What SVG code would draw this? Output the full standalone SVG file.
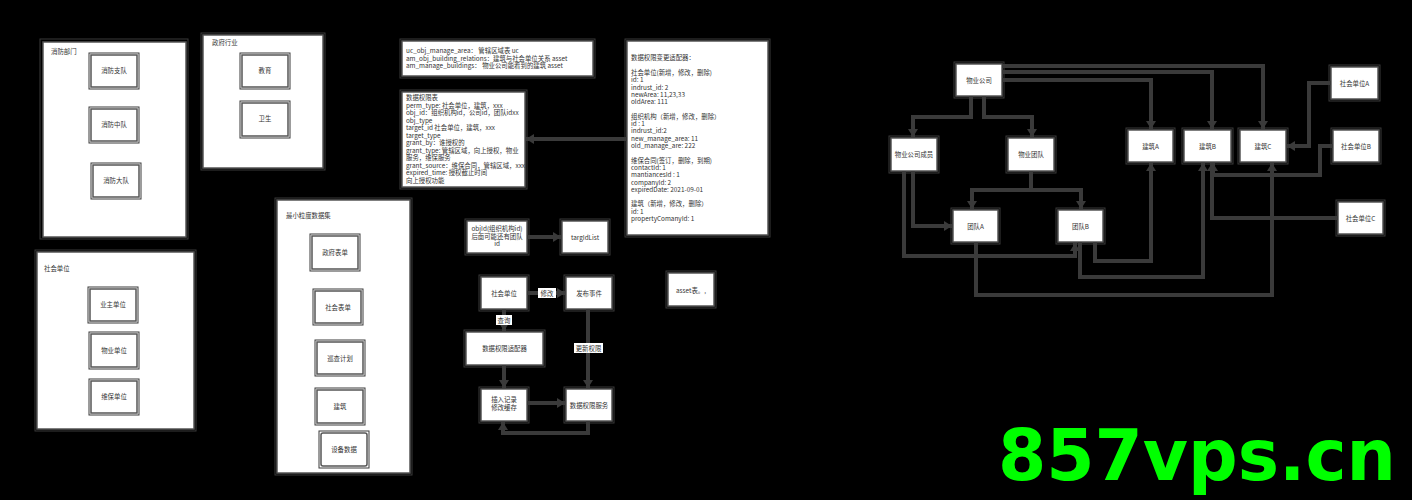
<svg xmlns="http://www.w3.org/2000/svg" width="1412" height="500" viewBox="0 0 1412 500">
<defs>
<style>
.bg{fill:#000}
.frame{fill:none;stroke:#3a3a3a;stroke-width:1}
.box{fill:#fff;stroke:#555;stroke-width:1.5}
.t{font-family:"Noto Sans CJK SC","Noto Sans",sans-serif;font-size:6.4px;fill:#333}
.c{text-anchor:middle}
.line{fill:none;stroke:#3a3a3a;stroke-width:4}
.lbl{fill:#fff}
.wm{font-family:"DejaVu Sans",sans-serif;font-weight:bold;font-size:72px;fill:#00ff00}
</style>
<marker id="ah" markerUnits="userSpaceOnUse" markerWidth="9" markerHeight="10" refX="8" refY="5" orient="auto">
<path d="M0,0 L8,5 L0,10 z" fill="#3a3a3a"/>
</marker>
</defs>
<rect class="bg" x="0" y="0" width="1412" height="500"/>

<g id="fire-dept">
<rect class="frame" x="40" y="39" width="148" height="200"/>
<rect class="box" x="43" y="42" width="143" height="195"/>
<text class="t" x="51" y="54">消防部门</text>
</g>
<g id="fire-1"><rect class="frame" x="89" y="53" width="50" height="36"/><rect class="box" x="91" y="55" width="46" height="32"/><text class="t c" x="114" y="73">消防支队</text></g>
<g id="fire-2"><rect class="frame" x="89" y="107" width="50" height="36"/><rect class="box" x="91" y="109" width="46" height="32"/><text class="t c" x="114" y="127">消防中队</text></g>
<g id="fire-3"><rect class="frame" x="91" y="163" width="50" height="36"/><rect class="box" x="93" y="165" width="46" height="32"/><text class="t c" x="116" y="183">消防大队</text></g>

<g id="gov">
<rect class="frame" x="201" y="33" width="124" height="137"/>
<rect class="box" x="203" y="35" width="120" height="133"/>
<text class="t" x="212" y="45">政府行业</text>
</g>
<g id="gov-edu"><rect class="frame" x="240" y="53" width="50" height="36"/><rect class="box" x="242" y="55" width="46" height="32"/><text class="t c" x="265" y="73">教育</text></g>
<g id="gov-health"><rect class="frame" x="240" y="101" width="50" height="37"/><rect class="box" x="242" y="103" width="46" height="33"/><text class="t c" x="265" y="121">卫生</text></g>

<g id="social">
<rect class="frame" x="35" y="250" width="161" height="181"/>
<rect class="box" x="37" y="252" width="157" height="177"/>
<text class="t" x="44" y="271">社会单位</text>
</g>
<g id="soc-1"><rect class="frame" x="88" y="287" width="50" height="36"/><rect class="box" x="90" y="289" width="46" height="32"/><text class="t c" x="113" y="307">业主单位</text></g>
<g id="soc-2"><rect class="frame" x="89" y="332" width="50" height="37"/><rect class="box" x="91" y="334" width="46" height="33"/><text class="t c" x="114" y="353">物业单位</text></g>
<g id="soc-3"><rect class="frame" x="89" y="379" width="50" height="36"/><rect class="box" x="91" y="381" width="46" height="32"/><text class="t c" x="114" y="399">维保单位</text></g>

<g id="dataset">
<rect class="frame" x="275" y="198" width="137" height="277"/>
<rect class="box" x="277" y="200" width="133" height="273"/>
<text class="t" x="286" y="218">最小粒度数据集</text>
</g>
<g id="ds-1"><rect class="frame" x="310" y="234" width="50" height="37"/><rect class="box" x="312" y="236" width="46" height="33"/><text class="t c" x="335" y="255">政府表单</text></g>
<g id="ds-2"><rect class="frame" x="313" y="289" width="50" height="36"/><rect class="box" x="315" y="291" width="46" height="32"/><text class="t c" x="338" y="310">社会表单</text></g>
<g id="ds-3"><rect class="frame" x="315" y="340" width="50" height="36"/><rect class="box" x="317" y="342" width="46" height="32"/><text class="t c" x="340" y="361">巡查计划</text></g>
<g id="ds-4"><rect class="frame" x="315" y="388" width="50" height="37"/><rect class="box" x="317" y="390" width="46" height="33"/><text class="t c" x="340" y="409">建筑</text></g>
<g id="ds-5"><rect class="frame" x="319" y="431" width="50" height="37"/><rect class="box" x="321" y="433" width="46" height="33" rx="2"/><text class="t c" x="344" y="452">设备数据</text></g>

<g id="tables-note">
<rect class="frame" x="400" y="39" width="195" height="39"/>
<rect class="box" x="402" y="41" width="191" height="35"/>
<text class="t" x="406" y="53">uc_obj_manage_area： 管辖区域表  uc</text>
<text class="t" x="406" y="60.5">am_obj_building_relations：建筑与社会单位关系 asset</text>
<text class="t" x="406" y="68">am_manage_buildings： 物业公司能看到的建筑 asset</text>
</g>

<g id="perm-table">
<rect class="frame" x="400" y="90" width="127" height="99"/>
<rect class="box" x="402" y="92" width="123" height="95"/>
<text class="t" x="406" y="100">数据权限表</text>
<text class="t" x="406" y="107.5">perm_type: 社会单位，建筑，xxx</text>
<text class="t" x="406" y="115">obj_id：组织机构id，公司id，团队idxx</text>
<text class="t" x="406" y="122.5">obj_type</text>
<text class="t" x="406" y="130">target_id 社会单位，建筑，xxx</text>
<text class="t" x="406" y="137.5">target_type</text>
<text class="t" x="406" y="145">grant_by：谁授权的</text>
<text class="t" x="406" y="152.5">grant_type: 管辖区域，向上授权，物业</text>
<text class="t" x="406" y="160">服务，维保服务</text>
<text class="t" x="406" y="167.5">grant_source：维保合同，管辖区域，xxx</text>
<text class="t" x="406" y="175">expired_time: 授权截止时间</text>
<text class="t" x="406" y="182.5">向上授权功能</text>
</g>

<g id="adapter-note">
<rect class="frame" x="625" y="39" width="145" height="198"/>
<rect class="box" x="627" y="41" width="141" height="194"/>
<text class="t" x="631" y="60">数据权限变更适配器：</text>
<text class="t" x="631" y="75">社会单位(新增，修改，删除)</text>
<text class="t" x="631" y="82.3">id: 1</text>
<text class="t" x="631" y="89.6">indrust_id: 2</text>
<text class="t" x="631" y="96.9">newArea: 11,23,33</text>
<text class="t" x="631" y="104.2">oldArea:  111</text>
<text class="t" x="631" y="118.8">组织机构（新增，修改，删除）</text>
<text class="t" x="631" y="126.1">id : 1</text>
<text class="t" x="631" y="133.4">indrust_id:2</text>
<text class="t" x="631" y="140.7">new_manage_area: 11</text>
<text class="t" x="631" y="148">old_manage_are: 222</text>
<text class="t" x="631" y="162.6">维保合同(签订，删除，到期)</text>
<text class="t" x="631" y="169.9">contactId: 1</text>
<text class="t" x="631" y="177.2">mantiancesId :  1</text>
<text class="t" x="631" y="184.5">companyId:  2</text>
<text class="t" x="631" y="191.8">expiredDate: 2021-09-01</text>
<text class="t" x="631" y="206.4">建筑（新增，修改，删除）</text>
<text class="t" x="631" y="213.7">id: 1</text>
<text class="t" x="631" y="221">propertyComanyId: 1</text>
</g>

<g id="objid"><rect class="frame" x="465" y="219" width="64" height="36"/><rect class="box" x="467" y="221" width="60" height="32"/>
<text class="t c" x="497" y="231">objId(组织机构id)</text><text class="t c" x="497" y="238.5">后面可能还有团队</text><text class="t c" x="497" y="246">id</text></g>
<g id="targidlist"><rect class="frame" x="560" y="219" width="50" height="36"/><rect class="box" x="562" y="221" width="46" height="32"/><text class="t c" x="585" y="239.5">targIdList</text></g>
<g id="flow-social"><rect class="frame" x="479" y="275" width="50" height="36"/><rect class="box" x="481" y="277" width="46" height="32"/><text class="t c" x="504" y="295.5">社会单位</text></g>
<g id="flow-publish"><rect class="frame" x="564" y="275" width="50" height="36"/><rect class="box" x="566" y="277" width="46" height="32"/><text class="t c" x="589" y="295.5">发布事件</text></g>
<g id="flow-adapter"><rect class="frame" x="464" y="330" width="81" height="37"/><rect class="box" x="466" y="332" width="77" height="33"/><text class="t c" x="504.5" y="351">数据权限适配器</text></g>
<g id="flow-insert"><rect class="frame" x="479" y="387" width="50" height="36"/><rect class="box" x="481" y="389" width="46" height="32"/><text class="t c" x="504" y="402">插入记录</text><text class="t c" x="504" y="410">修改缓存</text></g>
<g id="flow-service"><rect class="frame" x="564" y="387" width="50" height="36"/><rect class="box" x="566" y="389" width="46" height="32"/><text class="t c" x="589" y="407.5">数据权限服务</text></g>
<g id="asset"><rect class="frame" x="666" y="271" width="50" height="37"/><rect class="box" x="668" y="273" width="46" height="33"/><text class="t c" x="691" y="293">asset表。,</text></g>

<g id="pm-company"><rect class="frame" x="954" y="62" width="50" height="36"/><rect class="box" x="956" y="64" width="46" height="32"/><text class="t c" x="979" y="82.5">物业公司</text></g>
<g id="pm-member"><rect class="frame" x="889" y="136" width="50" height="37"/><rect class="box" x="891" y="138" width="46" height="33"/><text class="t c" x="914" y="157">物业公司成员</text></g>
<g id="pm-team"><rect class="frame" x="1006" y="136" width="50" height="37"/><rect class="box" x="1008" y="138" width="46" height="33"/><text class="t c" x="1031" y="157">物业团队</text></g>
<g id="team-a"><rect class="frame" x="951" y="208" width="49" height="36"/><rect class="box" x="953" y="210" width="45" height="32"/><text class="t c" x="975.5" y="228.5">团队A</text></g>
<g id="team-b"><rect class="frame" x="1056" y="208" width="49" height="36"/><rect class="box" x="1058" y="210" width="45" height="32"/><text class="t c" x="1080.5" y="228.5">团队B</text></g>
<g id="bld-a"><rect class="frame" x="1126" y="128" width="49" height="36"/><rect class="box" x="1128" y="130" width="45" height="32"/><text class="t c" x="1150.5" y="148.5">建筑A</text></g>
<g id="bld-b"><rect class="frame" x="1182" y="128" width="51" height="36"/><rect class="box" x="1184" y="130" width="47" height="32"/><text class="t c" x="1207.5" y="148.5">建筑B</text></g>
<g id="bld-c"><rect class="frame" x="1238" y="128" width="50" height="36"/><rect class="box" x="1240" y="130" width="46" height="32"/><text class="t c" x="1263" y="148.5">建筑C</text></g>
<g id="soc-a"><rect class="frame" x="1329" y="65" width="51" height="36"/><rect class="box" x="1331" y="67" width="47" height="32"/><text class="t c" x="1354.5" y="85.5">社会单位A</text></g>
<g id="soc-b"><rect class="frame" x="1331" y="128" width="50" height="36"/><rect class="box" x="1333" y="130" width="46" height="32"/><text class="t c" x="1356" y="148.5">社会单位B</text></g>
<g id="soc-c"><rect class="frame" x="1336" y="200" width="49" height="36"/><rect class="box" x="1338" y="202" width="45" height="32"/><text class="t c" x="1360.5" y="220.5">社会单位C</text></g>

<g id="connectors">
<path class="line" d="M627,139 H526" marker-end="url(#ah)"/>
<path class="line" d="M527,237 H561" marker-end="url(#ah)"/>
<path class="line" d="M527,293 H565" marker-end="url(#ah)"/>
<path class="line" d="M504,309 V331" marker-end="url(#ah)"/>
<path class="line" d="M588,309 V388" marker-end="url(#ah)"/>
<path class="line" d="M504,365 V388" marker-end="url(#ah)"/>
<path class="line" d="M527,403 H565" marker-end="url(#ah)"/>
<path class="line" d="M588,421 V433 H503 V422" marker-end="url(#ah)"/>

<path class="line" d="M1002,66 H1263 V129" marker-end="url(#ah)"/>
<path class="line" d="M1002,72 H1212 V129" marker-end="url(#ah)"/>
<path class="line" d="M1002,80 H1151 V129" marker-end="url(#ah)"/>
<path class="line" d="M971,96 V117 H913 V137" marker-end="url(#ah)"/>
<path class="line" d="M984,96 V117 H1032 V137" marker-end="url(#ah)"/>
<path class="line" d="M1031,171 V190 H972 V209" marker-end="url(#ah)"/>
<path class="line" d="M1031,171 V190 H1081 V209" marker-end="url(#ah)"/>
<path class="line" d="M913,171 V226 H952" marker-end="url(#ah)"/>
<path class="line" d="M904,171 V256 H1075 V243" marker-end="url(#ah)"/>
<path class="line" d="M1095,242 V261 H1151 V163" marker-end="url(#ah)"/>
<path class="line" d="M1080,242 V277 H1203 V163" marker-end="url(#ah)"/>
<path class="line" d="M976,242 V295 H1272 V163" marker-end="url(#ah)"/>
<path class="line" d="M1331,83 H1309 V146 H1287" marker-end="url(#ah)"/>
<path class="line" d="M1333,146 H1320 V175 H1213 V163" marker-end="url(#ah)"/>
<path class="line" d="M1338,218 H1212 V163" marker-end="url(#ah)"/>

<rect class="lbl" x="538" y="288" width="18" height="10"/>
<text class="t c" x="547" y="295.5">修改</text>
<rect class="lbl" x="496" y="315" width="16" height="10"/>
<text class="t c" x="504" y="322.5">查询</text>
<rect class="lbl" x="574" y="343" width="29" height="10"/>
<text class="t c" x="588.5" y="350.5">更新权限</text>
</g>

<text class="wm" x="998" y="480" textLength="398" lengthAdjust="spacingAndGlyphs">857vps.cn</text>
</svg>
